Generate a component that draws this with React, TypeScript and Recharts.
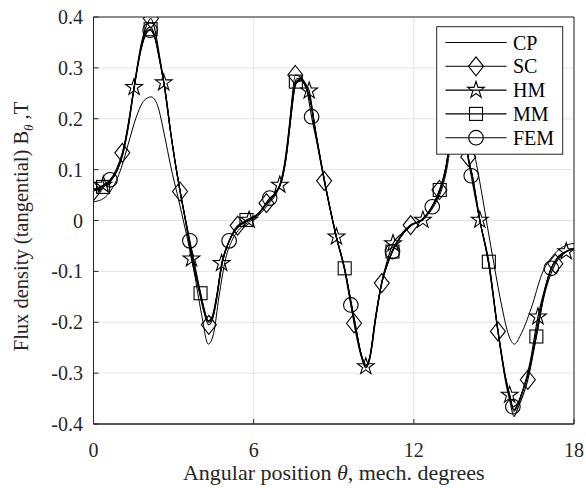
import React from 'react';
import { LineChart, Line, XAxis, YAxis, CartesianGrid, ReferenceArea, Label } from 'recharts';

type Pt = [number, number, number?];

const seriesNames = ['CP', 'SC', 'HM', 'MM', 'FEM'];
const xTicks = [0, 6, 12, 18];
const yTicks = [-0.4, -0.3, -0.2, -0.1, 0, 0.1, 0.2, 0.3, 0.4];

// CP: no markers
const CP: Pt[] = [
  [0.0, 0.037], [0.3, 0.041], [0.6, 0.055], [0.85, 0.078], [1.05, 0.105], [1.3, 0.15], [1.6, 0.203],
  [1.9, 0.236], [2.16, 0.243], [2.4, 0.226], [2.65, 0.17], [2.9, 0.105], [3.16, 0.047], [3.45, -0.02],
  [3.75, -0.095], [4.05, -0.185], [4.3, -0.243], [4.5, -0.222], [4.7, -0.15], [4.95, -0.075],
  [5.2, -0.038], [5.5, -0.015], [5.85, -0.002], [6.2, 0.011], [6.6, 0.035], [6.9, 0.058], [7.1, 0.088],
  [7.25, 0.135], [7.4, 0.205], [7.6, 0.27], [7.8, 0.274], [8.0, 0.255], [8.15, 0.23], [8.35, 0.168],
  [8.7, 0.066], [9.15, -0.043], [9.45, -0.105], [9.7, -0.178], [9.85, -0.22], [10.05, -0.266],
  [10.22, -0.283], [10.38, -0.264], [10.6, -0.185], [10.85, -0.112], [11.05, -0.08], [11.25, -0.055],
  [11.55, -0.03], [11.95, -0.008], [12.35, 0.003], [12.75, 0.028], [13.05, 0.062], [13.25, 0.105],
  [13.45, 0.18], [13.65, 0.235], [13.8, 0.245], [14.0, 0.215], [14.2, 0.15], [14.35, 0.11],
  [14.59, 0.04], [14.75, -0.01], [15.0, -0.085], [15.3, -0.17], [15.55, -0.225], [15.77, -0.243],
  [16.0, -0.225], [16.4, -0.172], [16.8, -0.105], [17.3, -0.064], [17.8, -0.047], [18.0, -0.045],
];

// SC: diamonds
const SC: Pt[] = [
  [0.0, 0.058, 1], [0.3, 0.064], [0.6, 0.078], [0.85, 0.1], [1.08, 0.133, 1], [1.3, 0.185], [1.5, 0.255],
  [1.8, 0.35], [2.0, 0.385], [2.15, 0.397, 1], [2.3, 0.375], [2.5, 0.315], [2.7, 0.25], [2.9, 0.17],
  [3.24, 0.057, 1], [3.45, 0.0], [3.65, -0.055], [3.9, -0.122], [4.1, -0.172], [4.32, -0.205, 1],
  [4.47, -0.192], [4.6, -0.16], [4.8, -0.09], [5.05, -0.045], [5.4, -0.01, 1], [5.8, 0.0], [6.1, 0.01],
  [6.48, 0.034, 1], [6.85, 0.055], [7.05, 0.082], [7.2, 0.122], [7.35, 0.19], [7.56, 0.286, 1],
  [7.75, 0.282], [7.95, 0.262], [8.1, 0.24], [8.3, 0.178], [8.64, 0.078, 1], [9.1, -0.032], [9.4, -0.094],
  [9.6, -0.15], [9.76, -0.202, 1], [10.0, -0.262], [10.2, -0.29], [10.35, -0.272], [10.55, -0.195],
  [10.8, -0.123, 1], [11.0, -0.087], [11.2, -0.058], [11.5, -0.032], [11.88, -0.009, 1], [12.3, 0.001],
  [12.7, 0.03], [12.96, 0.06, 1], [13.2, 0.105], [13.4, 0.18], [13.6, 0.25], [13.72, 0.265],
  [13.85, 0.225], [14.04, 0.125, 1], [14.2, 0.085], [14.47, 0.002], [14.8, -0.085], [15.15, -0.218, 1],
  [15.45, -0.32], [15.6, -0.355], [15.75, -0.385], [15.9, -0.368], [16.27, -0.313, 1], [16.6, -0.225],
  [16.85, -0.155], [17.3, -0.085, 1], [17.7, -0.062], [18.0, -0.055],
];

// HM: stars
const HM: Pt[] = [
  [0.0, 0.06], [0.37, 0.07, 1], [0.65, 0.078], [0.9, 0.1], [1.1, 0.135], [1.3, 0.19], [1.52, 0.262, 1],
  [1.8, 0.345], [2.0, 0.376], [2.14, 0.38], [2.3, 0.362], [2.45, 0.325], [2.63, 0.271, 1], [2.9, 0.168],
  [3.1, 0.1], [3.25, 0.056], [3.45, -0.002], [3.67, -0.075, 1], [3.9, -0.125], [4.1, -0.17], [4.3, -0.198],
  [4.45, -0.19], [4.6, -0.155], [4.8, -0.084, 1], [5.05, -0.045], [5.4, -0.012], [5.83, 0.001, 1],
  [6.2, 0.014], [6.5, 0.034], [6.8, 0.054], [6.98, 0.07, 1], [7.15, 0.11], [7.3, 0.17], [7.45, 0.24],
  [7.6, 0.278], [7.78, 0.28], [7.95, 0.268], [8.08, 0.255, 1], [8.3, 0.18], [8.66, 0.076],
  [9.1, -0.032, 1], [9.4, -0.094], [9.65, -0.16], [9.8, -0.203], [10.0, -0.258], [10.2, -0.287, 1],
  [10.35, -0.27], [10.55, -0.196], [10.8, -0.12], [11.0, -0.08], [11.22, -0.045, 1], [11.5, -0.028],
  [11.9, -0.008], [12.34, 0.001, 1], [12.7, 0.028], [13.0, 0.063], [13.2, 0.105], [13.4, 0.165, 1],
  [13.55, 0.232], [13.72, 0.258], [13.85, 0.222], [14.0, 0.138], [14.2, 0.085], [14.47, 0.001, 1],
  [14.8, -0.083], [15.15, -0.218], [15.4, -0.3], [15.59, -0.343, 1], [15.75, -0.375], [15.9, -0.362],
  [16.1, -0.332], [16.35, -0.28], [16.65, -0.189, 1], [16.85, -0.145], [17.1, -0.1], [17.4, -0.072],
  [17.71, -0.061, 1], [18.0, -0.056],
];

// MM: squares
const MM: Pt[] = [
  [0.0, 0.061], [0.36, 0.066, 1], [0.65, 0.078], [0.9, 0.1], [1.1, 0.132], [1.3, 0.186], [1.5, 0.255],
  [1.8, 0.342], [2.0, 0.372], [2.14, 0.376, 1], [2.3, 0.36], [2.5, 0.31], [2.7, 0.25], [2.9, 0.17],
  [3.1, 0.102], [3.25, 0.056], [3.45, 0.0], [3.7, -0.072], [4.01, -0.143, 1], [4.2, -0.185],
  [4.32, -0.2], [4.47, -0.19], [4.6, -0.155], [4.8, -0.088], [5.05, -0.044], [5.4, -0.013],
  [5.73, 0.001, 1], [6.1, 0.011], [6.5, 0.033], [6.8, 0.053], [7.05, 0.078], [7.2, 0.118], [7.35, 0.182],
  [7.58, 0.273, 1], [7.78, 0.278], [7.95, 0.264], [8.1, 0.243], [8.3, 0.18], [8.66, 0.077], [9.1, -0.033],
  [9.41, -0.094, 1], [9.65, -0.162], [9.82, -0.207], [10.0, -0.258], [10.2, -0.286], [10.35, -0.269],
  [10.55, -0.198], [10.8, -0.121], [11.0, -0.086], [11.2, -0.061, 1], [11.5, -0.031], [11.9, -0.009],
  [12.3, 0.001], [12.7, 0.028], [12.97, 0.06, 1], [13.2, 0.103], [13.4, 0.176], [13.6, 0.244],
  [13.72, 0.256], [13.85, 0.222], [14.0, 0.136], [14.2, 0.086], [14.47, 0.001], [14.81, -0.081, 1],
  [15.15, -0.216], [15.45, -0.314], [15.6, -0.345], [15.75, -0.372], [15.9, -0.36], [16.1, -0.332],
  [16.3, -0.298], [16.59, -0.228, 1], [16.85, -0.152], [17.1, -0.1], [17.4, -0.072], [17.7, -0.061],
  [18.0, -0.055],
];

// FEM: circles
const FEM: Pt[] = [
  [0.0, 0.062], [0.3, 0.066], [0.62, 0.08, 1], [0.9, 0.1], [1.1, 0.13], [1.3, 0.182], [1.5, 0.252],
  [1.8, 0.34], [2.12, 0.374, 1], [2.3, 0.358], [2.5, 0.308], [2.7, 0.25], [2.9, 0.17], [3.1, 0.102],
  [3.3, 0.042], [3.61, -0.04, 1], [3.9, -0.115], [4.1, -0.165], [4.3, -0.197], [4.45, -0.188],
  [4.6, -0.152], [4.8, -0.088], [5.08, -0.04, 1], [5.4, -0.014], [5.8, 0.0], [6.2, 0.014],
  [6.6, 0.044, 1], [6.85, 0.056], [7.05, 0.08], [7.2, 0.12], [7.35, 0.185], [7.5, 0.25], [7.62, 0.274],
  [7.8, 0.276], [8.0, 0.255], [8.17, 0.204, 1], [8.4, 0.145], [8.66, 0.076], [9.1, -0.034], [9.4, -0.096],
  [9.64, -0.166, 1], [9.85, -0.22], [10.05, -0.268], [10.2, -0.285], [10.35, -0.268], [10.55, -0.198],
  [10.8, -0.122], [11.0, -0.088], [11.2, -0.061, 1], [11.5, -0.033], [11.9, -0.01], [12.3, 0.002],
  [12.69, 0.027, 1], [13.0, 0.06], [13.2, 0.1], [13.4, 0.175], [13.6, 0.24], [13.72, 0.255],
  [13.85, 0.22], [14.0, 0.135], [14.15, 0.088, 1], [14.47, 0.0], [14.8, -0.082], [15.15, -0.215],
  [15.45, -0.312], [15.71, -0.366, 1], [15.9, -0.358], [16.1, -0.33], [16.3, -0.3], [16.6, -0.215],
  [16.85, -0.15], [17.15, -0.094, 1], [17.45, -0.07], [17.75, -0.06], [18.0, -0.055],
];

const toRows = (pts: Pt[]) => pts.map(([x, y, m]) => ({ x, y, m: m ? 1 : 0 }));

const INK = '#262626';
const FONT = '"Liberation Serif", "Times New Roman", serif';

type Kind = 'none' | 'diamond' | 'star' | 'square' | 'circle';

function markerShape(kind: Kind, cx: number, cy: number, key?: string) {
  const common = { fill: 'none', stroke: '#000', strokeWidth: 1.1 };
  if (kind === 'diamond') {
    return <polygon key={key} {...common} points={`${cx},${cy - 9.5} ${cx + 7.5},${cy} ${cx},${cy + 9.5} ${cx - 7.5},${cy}`} />;
  }
  if (kind === 'square') {
    return <rect key={key} {...common} x={cx - 6.5} y={cy - 6.5} width={13} height={13} />;
  }
  if (kind === 'circle') {
    return <circle key={key} {...common} cx={cx} cy={cy} r={7.3} />;
  }
  if (kind === 'star') {
    const pts: string[] = [];
    for (let i = 0; i < 10; i++) {
      const r = i % 2 === 0 ? 8.8 : 3.4;
      const a = -Math.PI / 2 + (i * Math.PI) / 5;
      pts.push(`${cx + r * Math.cos(a)},${cy + r * Math.sin(a)}`);
    }
    return <polygon key={key} {...common} points={pts.join(' ')} />;
  }
  return <g key={key} />;
}

const makeDot = (kind: Kind) => (p: any) => {
  const key = `dot-${kind}-${p.index}`;
  if (!p.payload || !p.payload.m) return <g key={key} />;
  return markerShape(kind, p.cx, p.cy, key);
};

const kinds: Kind[] = ['none', 'diamond', 'star', 'square', 'circle'];
const seriesData = [CP, SC, HM, MM, FEM];

const fmtY = (v: number) => (Math.abs(v) < 1e-9 ? '0' : v.toFixed(1));

const XTick = (p: any) => (
  <text x={p.x} y={p.y} dy="0.71em" textAnchor="middle" fontFamily={FONT} fontSize={20} fill={INK}>
    {p.payload.value}
  </text>
);

const YTick = (p: any) => (
  <text x={p.x} y={p.y} dy="0.355em" textAnchor="end" fontFamily={FONT} fontSize={20} fill={INK}>
    {fmtY(p.payload.value)}
  </text>
);

const XLabel = (props: any) => {
  const vb = props.viewBox || { x: 93.5, y: 424, width: 480.5, height: 64 };
  return (
    <text x={vb.x + vb.width / 2} y={vb.y + 56} textAnchor="middle" fontFamily={FONT} fontSize={22} fill={INK}>
      Angular position <tspan fontStyle="italic">θ</tspan>, mech. degrees
    </text>
  );
};

const YLabel = (props: any) => {
  const vb = props.viewBox || { x: 0, y: 17, width: 93.5, height: 407 };
  const cx = 27.5;
  const cy = vb.y + vb.height / 2 + 6;
  return (
    <text x={cx} y={cy} textAnchor="middle" fontFamily={FONT} fontSize={20.5} fill={INK} transform={`rotate(-90, ${cx}, ${cy})`}>
      Flux density (tangential) B<tspan fontSize={13} fontStyle="italic" dy={5}>θ</tspan>
      <tspan dy={-5}> ,T</tspan>
    </text>
  );
};

const Legend = () => {
  const left = 436.7;
  const top = 26.7;
  const rowY = (i: number) => 42.5 + i * 23.8;
  return (
    <svg width={586} height={488} style={{ position: 'absolute', left: 0, top: 0, pointerEvents: 'none' }}>
      <rect x={left} y={top} width={126} height={127.5} fill="#fff" stroke={INK} strokeWidth={1} />
      {seriesNames.map((name, i) => (
        <g key={name}>
          <line x1={445.5} x2={506.5} y1={rowY(i)} y2={rowY(i)} stroke="#000" strokeWidth={1.1} />
          {markerShape(kinds[i], 476, rowY(i))}
          <text x={513} y={rowY(i) + 7} fontFamily={FONT} fontSize={20} fill="#000">{name}</text>
        </g>
      ))}
    </svg>
  );
};

export default function App() {
  return (
    <div style={{ position: 'absolute', left: 0, top: 0, width: 586, height: 488, background: '#fff', fontFamily: FONT }}>
      <LineChart width={586} height={488} margin={{ top: 17, right: 12, bottom: 0, left: 0 }} style={{ fontFamily: FONT }}>
        <CartesianGrid stroke="#e4e4e4" strokeWidth={1} />
        <XAxis
          xAxisId={0}
          type="number"
          dataKey="x"
          domain={[0, 18]}
          ticks={xTicks}
          interval={0}
          allowDataOverflow
          height={64}
          tickSize={-5}
          tickMargin={24}
          stroke={INK}
          tick={XTick}
        >
          <Label content={XLabel} />
        </XAxis>
        <XAxis
          xAxisId="top"
          orientation="top"
          type="number"
          dataKey="x"
          domain={[0, 18]}
          ticks={xTicks}
          interval={0}
          allowDataOverflow
          height={0}
          tickSize={-5}
          tick={false}
          stroke={INK}
        />
        <YAxis
          yAxisId={0}
          type="number"
          domain={[-0.4, 0.4]}
          ticks={yTicks}
          interval={0}
          allowDataOverflow
          width={93.5}
          tickSize={-5}
          tickMargin={15.5}
          stroke={INK}
          tick={YTick}
        >
          <Label content={YLabel} />
        </YAxis>
        <YAxis
          yAxisId="right"
          orientation="right"
          type="number"
          domain={[-0.4, 0.4]}
          ticks={yTicks}
          interval={0}
          allowDataOverflow
          width={0}
          tickSize={-5}
          tick={false}
          stroke={INK}
        />
        {seriesData.map((pts, i) => (
          <Line
            key={seriesNames[i]}
            xAxisId={0}
            yAxisId={0}
            data={toRows(pts)}
            dataKey="y"
            type="monotone"
            stroke="#000"
            strokeWidth={i === 0 ? 1 : 1.15}
            dot={makeDot(kinds[i])}
            activeDot={false}
            isAnimationActive={false}
          />
        ))}
        <ReferenceArea xAxisId={0} yAxisId={0} x1={0} x2={18} y1={-0.4} y2={0.4} fill="none" fillOpacity={0} stroke={INK} strokeWidth={1} />
      </LineChart>
      <Legend />
    </div>
  );
}
